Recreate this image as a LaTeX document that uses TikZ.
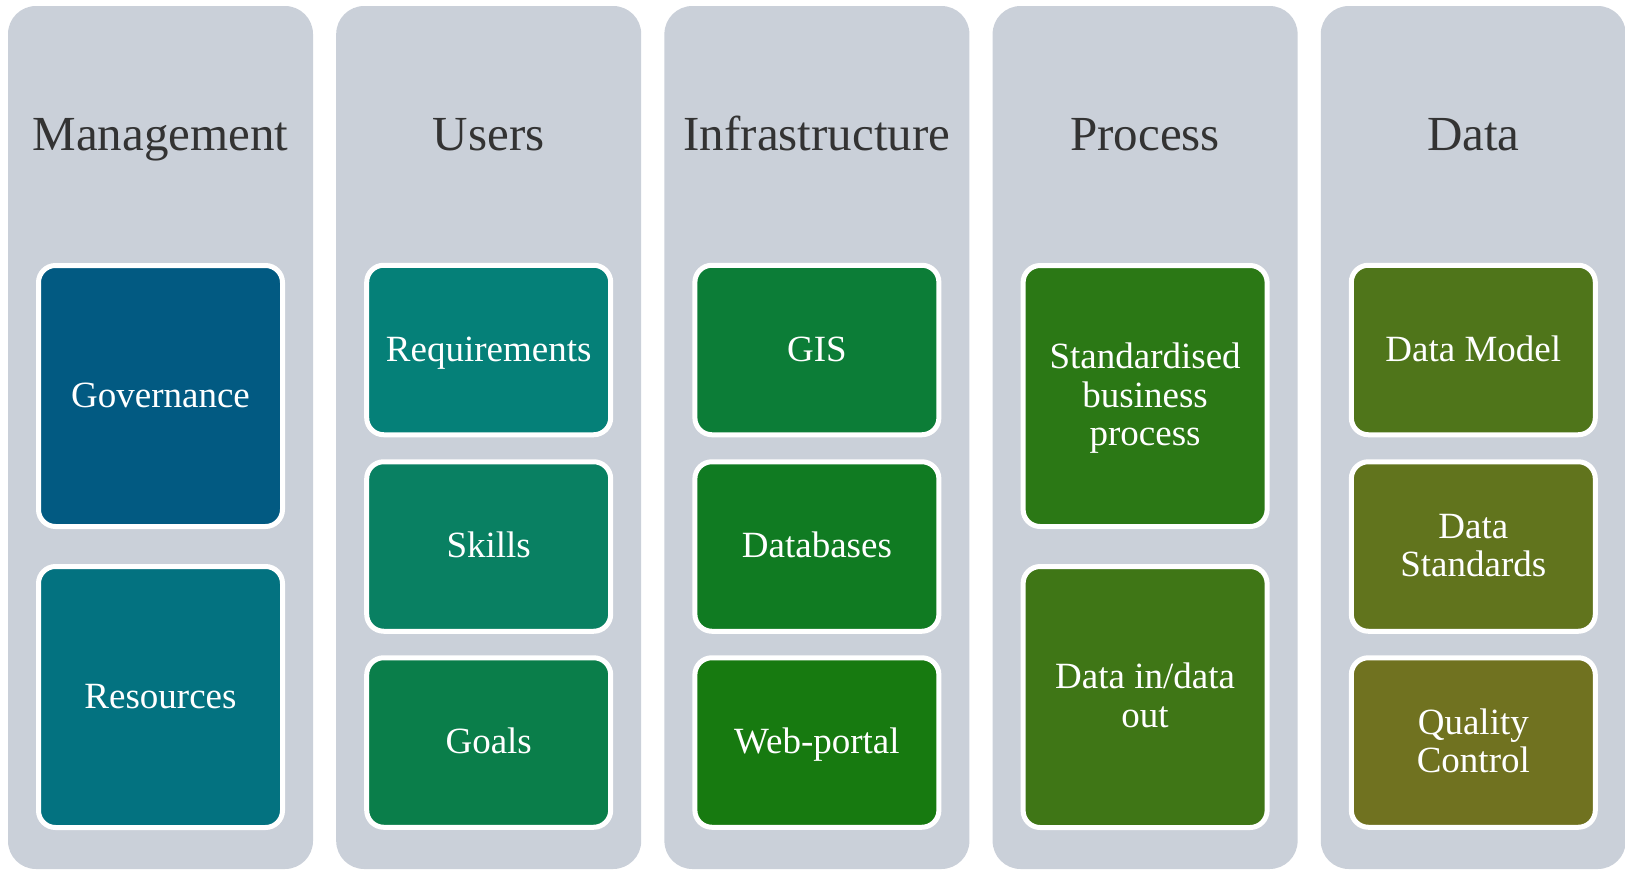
\documentclass[tikz,border=0pt]{standalone}
\usepackage{fontspec}
\setmainfont{Liberation Serif}
\definecolor{colbg}{HTML}{CAD0D9}
\definecolor{titlecol}{HTML}{333333}
\definecolor{cGov}{HTML}{025A82}
\definecolor{cRes}{HTML}{037280}
\definecolor{cReq}{HTML}{058078}
\definecolor{cSki}{HTML}{098062}
\definecolor{cGoa}{HTML}{0A7E4A}
\definecolor{cGis}{HTML}{0C7D37}
\definecolor{cDb}{HTML}{107B22}
\definecolor{cWeb}{HTML}{177A10}
\definecolor{cStd}{HTML}{2B7815}
\definecolor{cDio}{HTML}{3F7616}
\definecolor{cDm}{HTML}{4F751A}
\definecolor{cDs}{HTML}{61741D}
\definecolor{cQc}{HTML}{707220}
\tikzset{
  column/.style={fill=colbg, draw=none, rounded corners=28pt},
  title/.style={anchor=base, text=titlecol, font=\fontsize{49}{52}\selectfont, inner sep=0pt},
  item/.style={draw=white, line width=5pt, rounded corners=17pt, minimum width=244pt,
    inner sep=0pt, text=white, align=center, font=\fontsize{37}{38.5}\selectfont,
    text depth=0pt},
  tall/.style={item, minimum height=261pt},
  short/.style={item, minimum height=169.5pt},
  oneline/.style={text height=22pt},
  twoline/.style={text height=60.5pt},
  threeline/.style={text height=99pt}
}
\begin{document}
\begin{tikzpicture}[x=1pt,y=-1pt]
\useasboundingbox (0,0) rectangle (1625,870);
% columns
\fill[column] (8,6) rectangle (313,869);
\fill[column] (336.2,6) rectangle (641.2,869);
\fill[column] (664.4,6) rectangle (969.4,869);
\fill[column] (992.6,6) rectangle (1297.6,869);
\fill[column] (1320.8,6) rectangle (1625.8,869);
% titles
\node[title] (tMan) at (160.5,150) {Management};
\node[title] (tUse) at (488.7,150) {Users};
\node[title] (tInf) at (816.9,150) {Infrastructure};
\node[title] (tPro) at (1145.1,150) {Process};
\node[title] (tDat) at (1473.3,150) {Data};
% Management
\node[tall, oneline, fill=cGov] (gov) at (160.5,396) {Governance};
\node[tall, oneline, fill=cRes] (res) at (160.5,697) {Resources};
% Users
\node[short, oneline, fill=cReq] (req) at (488.7,350) {Requirements};
\node[short, oneline, fill=cSki] (ski) at (488.7,546.5) {Skills};
\node[short, oneline, fill=cGoa] (goa) at (488.7,742.5) {Goals};
% Infrastructure
\node[short, oneline, fill=cGis] (gis) at (816.9,350) {GIS};
\node[short, oneline, fill=cDb] (dbs) at (816.9,546.5) {Databases};
\node[short, oneline, fill=cWeb] (web) at (816.9,742.5) {Web-portal};
% Process
\node[tall, threeline, fill=cStd] (std) at (1145.1,396) {Standardised\\business\\process};
\node[tall, twoline, fill=cDio] (dio) at (1145.1,697) {Data in/data\\out};
% Data
\node[short, oneline, fill=cDm] (dm) at (1473.3,350) {Data Model};
\node[short, twoline, fill=cDs] (ds) at (1473.3,546.5) {Data\\Standards};
\node[short, twoline, fill=cQc] (qc) at (1473.3,742.5) {Quality\\Control};
\end{tikzpicture}
\end{document}
